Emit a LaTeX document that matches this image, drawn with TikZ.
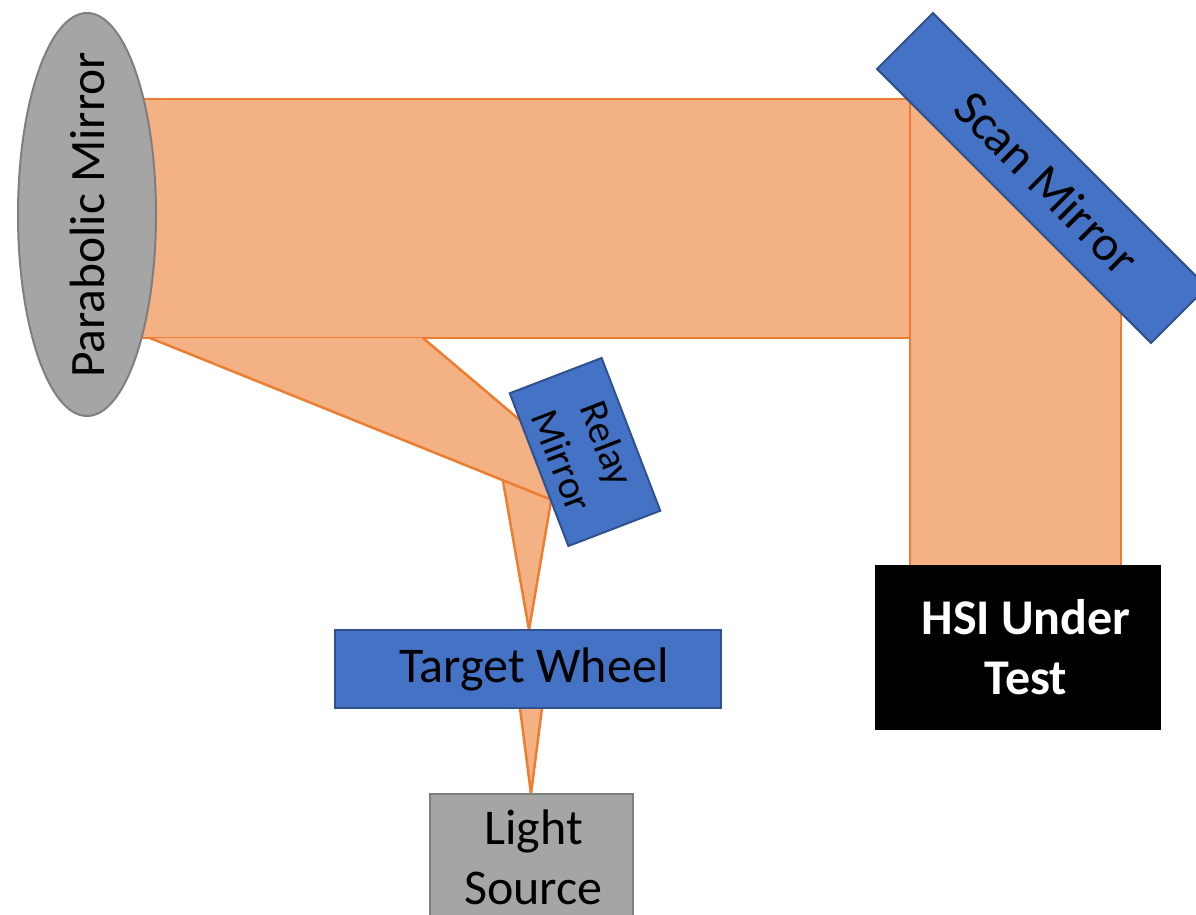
\documentclass[tikz,border=0pt]{standalone}
\usepackage{fontspec}
\setmainfont{Carlito}
\usetikzlibrary{shapes.geometric}
\definecolor{beamfill}{HTML}{F4B183}
\definecolor{beamline}{HTML}{ED7D31}
\definecolor{blueface}{HTML}{4472C4}
\definecolor{blueline}{HTML}{2F528F}
\definecolor{grayface}{HTML}{A5A5A5}
\definecolor{grayline}{HTML}{7F7F7F}
\tikzset{
  beamedge/.style={draw=beamline,line width=2.5pt,line cap=round},
  bluebox/.style={rectangle,fill=blueface,draw=blueline,line width=2pt,inner sep=0pt,text=black,align=center},
  graybox/.style={rectangle,fill=grayface,draw=grayline,line width=2pt,inner sep=0pt,text=black,align=center},
  blackbox/.style={rectangle,fill=black,inner sep=0pt,text=white,align=center,font=\fontsize{50}{60}\selectfont\bfseries},
}
\begin{document}
\begin{tikzpicture}[x=1pt,y=-1pt]
\useasboundingbox (0,0) rectangle (1196,915);
\clip (0,0) rectangle (1196,915);
% beams
\fill[beamfill] (143,99) rectangle (910,338);
\draw[beamedge] (143,99) -- (910,99) (143,338) -- (910,338);
\fill[beamfill] (910,99) -- (1121,310) -- (1121,565) -- (910,565) -- cycle;
\draw[beamedge] (910,99) -- (910,565) (1121,310) -- (1121,565);
\fill[beamfill] (150,338) -- (423,338) -- (520,420) -- (552,500) -- cycle;
\fill[beamfill] (503,481) -- (552,500) -- (529,630) -- cycle;
\draw[beamedge] (150,338) -- (552,500) (423,338) -- (521,421);
\draw[beamedge] (503,481) -- (529,630) -- (551,501);
\fill[beamfill] (520,708) -- (542,708) -- (531,794) -- cycle;
\draw[beamedge] (520,708) -- (531,794) -- (542,708);
% components
\node[ellipse,fill=grayface,draw=grayline,line width=2pt,inner sep=0pt,minimum width=138pt,minimum height=403pt] (parabolic) at (87,214.5) {};
\node[rotate=90,font=\fontsize{49.5}{54}\selectfont] (paraboliclabel) at (87,215) {Parabolic Mirror};
\node[bluebox,rotate=-45,minimum width=387.5pt,minimum height=79pt,font=\fontsize{50}{54}\selectfont] (scan) at (1042,178) {\hspace*{14pt}\raisebox{-6pt}{Scan Mirror}};
\node[bluebox,rotate=-69,minimum width=163.6pt,minimum height=98.4pt,font=\fontsize{40}{48}\selectfont] (relay) at (585,452) {Relay\\Mirror};
\node[bluebox,minimum width=386pt,minimum height=78pt,font=\fontsize{50}{58}\selectfont] (wheel) at (528,669) {\hspace*{12pt}\raisebox{-3pt}{Target Wheel}};
\node[blackbox,minimum width=286pt,minimum height=165pt] (hsi) at (1018,647.5) {\hspace*{16pt}HSI Under\\\hspace*{16pt}Test};
\node[graybox,minimum width=203pt,minimum height=126pt,font=\fontsize{50}{60}\selectfont] (light) at (531.5,857) {\hspace*{4pt}Light\\\hspace*{4pt}Source};
\end{tikzpicture}
\end{document}
